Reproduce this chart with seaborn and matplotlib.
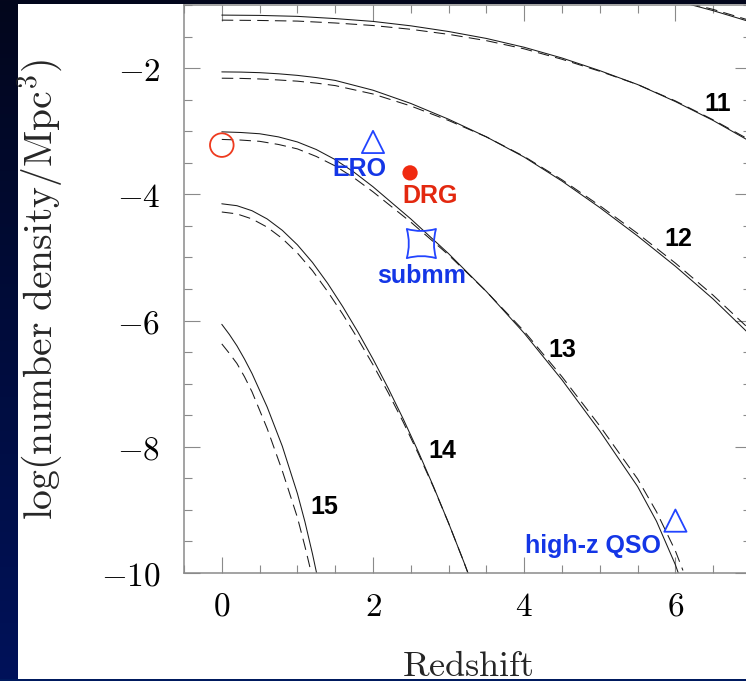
import numpy as np
import matplotlib
matplotlib.use("Agg")
import matplotlib.pyplot as plt
import seaborn as sns
from matplotlib.path import Path
from matplotlib.patches import Rectangle
from matplotlib.colors import LinearSegmentedColormap
from matplotlib.ticker import MultipleLocator, FuncFormatter

# ---- cumulative halo abundance, log n(>M) [Mpc^-3], vs redshift ----
# solid = one model, dashed = the other, for each log halo mass
z10 = [5.6, 6.0, 6.5, 7.0]
solid10 = [-0.80, -0.93, -1.09, -1.27]
dashed10 = [-0.79, -0.92, -1.07, -1.25]

z11 = [0, 0.5, 1, 1.5, 2, 2.5, 3, 3.5, 4, 4.5, 5, 5.5, 6, 6.5, 7]
solid11 = [-1.16, -1.165, -1.18, -1.215, -1.26, -1.33, -1.42, -1.53, -1.67, -1.84,
           -2.04, -2.26, -2.53, -2.83, -3.17]
dashed11 = [-1.24, -1.245, -1.255, -1.285, -1.325, -1.385, -1.465, -1.565, -1.695,
            -1.86, -2.05, -2.26, -2.52, -2.82, -3.15]

z12 = [0, 0.25, 0.5, 0.75, 1, 1.25, 1.5, 2, 2.5, 3, 3.5, 4, 4.5, 5, 5.5, 6, 6.5, 7]
solid12 = [-2.06, -2.063, -2.072, -2.09, -2.115, -2.15, -2.195, -2.35, -2.56, -2.81,
           -3.09, -3.41, -3.79, -4.21, -4.66, -5.14, -5.66, -6.24]
dashed12 = [-2.16, -2.163, -2.172, -2.188, -2.207, -2.238, -2.277, -2.41, -2.60,
            -2.83, -3.09, -3.40, -3.77, -4.18, -4.62, -5.09, -5.60, -6.16]

z13 = [0, 0.25, 0.5, 0.75, 1, 1.25, 1.5, 1.75, 2, 2.5, 3, 3.5, 4, 4.5, 5, 5.5,
       5.75, 6, 6.1]
solid13 = [-3.01, -3.02, -3.04, -3.09, -3.17, -3.29, -3.45, -3.65, -3.88, -4.39,
           -4.94, -5.54, -6.20, -6.94, -7.75, -8.63, -9.18, -9.87, -10.21]
dashed13 = [-3.13, -3.14, -3.16, -3.21, -3.28, -3.40, -3.55, -3.74, -3.96, -4.44,
            -4.96, -5.54, -6.17, -6.89, -7.67, -8.51, -9.03, -9.65, -9.96]

z14 = [0, 0.2, 0.4, 0.6, 0.8, 1.0, 1.2, 1.4, 1.6, 1.8, 2.0, 2.2, 2.4, 2.6, 2.8,
       3.0, 3.2, 3.3]
solid14 = [-4.15, -4.18, -4.26, -4.39, -4.57, -4.80, -5.08, -5.41, -5.78, -6.18,
           -6.61, -7.07, -7.56, -8.08, -8.63, -9.21, -9.82, -10.14]
dashed14 = [-4.28, -4.31, -4.39, -4.52, -4.70, -4.93, -5.21, -5.54, -5.90, -6.29,
            -6.70, -7.14, -7.61, -8.11, -8.64, -9.21, -9.82, -10.14]

z15 = [0, 0.1, 0.2, 0.3, 0.4, 0.6, 0.8, 1.0, 1.1, 1.2, 1.3]
solid15 = [-6.06, -6.22, -6.40, -6.61, -6.84, -7.37, -7.99, -8.74, -9.19, -9.70, -10.26]
dashed15 = [-6.37, -6.52, -6.68, -6.89, -7.13, -7.71, -8.38, -9.12, -9.58, -10.08, -10.62]

curves = [(z10, solid10, dashed10), (z11, solid11, dashed11), (z12, solid12, dashed12),
          (z13, solid13, dashed13), (z14, solid14, dashed14), (z15, solid15, dashed15)]

# log-mass labels placed beside their curves
mass_labels = ["11", "12", "13", "14", "15"]
mass_label_z = [6.56, 6.04, 4.50, 2.92, 1.35]
mass_label_y = [-2.57, -4.70, -6.46, -8.06, -8.95]

# observed populations
pop_names = ["local", "ERO", "DRG", "submm", "high-z QSO"]
pop_z = [0.0, 2.0, 2.49, 2.64, 6.0]
pop_logn = [-3.22, -3.17, -3.66, -4.78, -9.17]
pop_text = ["", "ERO", "DRG", "submm", "high-z QSO"]
pop_text_z = [0, 1.82, 2.75, 2.64, 4.91]
pop_text_y = [0, -3.60, -4.02, -5.29, -9.57]

BLUE = "#1436e6"
MARK_BLUE = "#2244ff"
RED = "#e3280f"

sns.set_style("ticks")
plt.rcParams["mathtext.fontset"] = "cm"
plt.rcParams["font.family"] = ["DejaVu Sans"]

W, H = 746, 681
fig = plt.figure(figsize=(W / 100, H / 100), dpi=100)

# slide backdrop: navy gradient with a white panel
bg = fig.add_axes([0, 0, 1, 1], zorder=-5)
bg.set_axis_off()
cmap = LinearSegmentedColormap.from_list("navy", ["#03061c", "#000c3c", "#00125a"])
bg.imshow(np.linspace(0, 1, 256)[:, None], cmap=cmap, aspect="auto",
          extent=[0, 1, 0, 1], origin="upper")
bg.add_patch(Rectangle((18 / W, 2 / H), 1.0, 675 / H, facecolor="white",
                       edgecolor="none"))
bg.set_xlim(0, 1)
bg.set_ylim(0, 1)
fig.add_artist(Rectangle((0, 0), 1, 2 / H, transform=fig.transFigure,
                         facecolor="#001a5e", edgecolor="none", zorder=20))

ax = fig.add_axes([184 / W, 108 / H, 567 / W, 568 / H])
ax.set_facecolor("none")

for zz, ss, dd in curves:
    sns.lineplot(x=zz, y=ss, ax=ax, color="#1a1a1a", linewidth=0.75,
                 estimator=None, sort=False)
    sns.lineplot(x=zz, y=dd, ax=ax, color="#1a1a1a", linewidth=0.75,
                 linestyle=(0, (11, 6)), estimator=None, sort=False)

for lab, lz, ly in zip(mass_labels, mass_label_z, mass_label_y):
    ax.text(lz, ly, lab, ha="center", va="center", fontsize=18,
            fontweight="bold", family="Liberation Sans", color="black")

# concave-sided square for the submm sources
k = 0.72
submm_marker = Path(
    [(-1, -1), (0, -k), (1, -1), (k, 0), (1, 1), (0, k), (-1, 1), (-k, 0), (-1, -1), (-1, -1)],
    [Path.MOVETO, Path.CURVE3, Path.CURVE3, Path.CURVE3, Path.CURVE3,
     Path.CURVE3, Path.CURVE3, Path.CURVE3, Path.CURVE3, Path.CLOSEPOLY])

sns.scatterplot(x=[pop_z[0]], y=[pop_logn[0]], ax=ax, marker="o", s=17 ** 2,
                facecolors="none", edgecolors="#ee3a1e", linewidths=1.3, zorder=5)
sns.scatterplot(x=[pop_z[1], pop_z[4]], y=[pop_logn[1], pop_logn[4]], ax=ax,
                marker="^", s=16 ** 2, facecolors="none", edgecolors=MARK_BLUE,
                linewidths=1.3, zorder=5)
sns.scatterplot(x=[pop_z[2]], y=[pop_logn[2]], ax=ax, marker="o", s=11 ** 2,
                color="#f02a10", edgecolor="none", zorder=5)
sns.scatterplot(x=[pop_z[3]], y=[pop_logn[3]], ax=ax, marker=submm_marker,
                s=21 ** 2, facecolors="none", edgecolors=MARK_BLUE,
                linewidths=1.3, zorder=5)

for name, tz, ty in zip(pop_text, pop_text_z, pop_text_y):
    if not name:
        continue
    ax.text(tz, ty, name, ha="center", va="center", fontsize=18,
            fontweight="bold", family="Liberation Sans",
            color=RED if name == "DRG" else BLUE)

ax.set_xlim(-0.5, 7)
ax.set_ylim(-10, -1)
ax.xaxis.set_major_locator(MultipleLocator(2))
ax.xaxis.set_minor_locator(MultipleLocator(0.5))
ax.yaxis.set_major_locator(MultipleLocator(2))
ax.yaxis.set_minor_locator(MultipleLocator(0.5))
fmt = FuncFormatter(lambda v, p: r"$%d$" % int(round(v)))
ax.xaxis.set_major_formatter(fmt)
ax.yaxis.set_major_formatter(fmt)

tick_grey = "#8a8a8a"
ax.tick_params(which="both", direction="in", top=True, right=True,
               color=tick_grey, width=0.8)
ax.tick_params(which="major", length=11.5, labelsize=24, labelcolor="black")
ax.tick_params(axis="y", which="major", pad=17)
ax.tick_params(axis="x", which="major", pad=12)
ax.tick_params(which="minor", length=5.8)
for sp in ax.spines.values():
    sp.set_color(tick_grey)
    sp.set_linewidth(1.1)

ax.set_xlabel(r"$\mathrm{Redshift}$", fontsize=26, va="baseline")
ax.xaxis.set_label_coords(0.5, (5 - 108) / 568)
ax.set_ylabel(r"$\mathrm{log(number\ density/Mpc^3)}$", fontsize=28.5,
              va="center")
ax.yaxis.set_label_coords((40 - 184) / 567, 0.5)

fig.savefig("out.png", dpi=100)
